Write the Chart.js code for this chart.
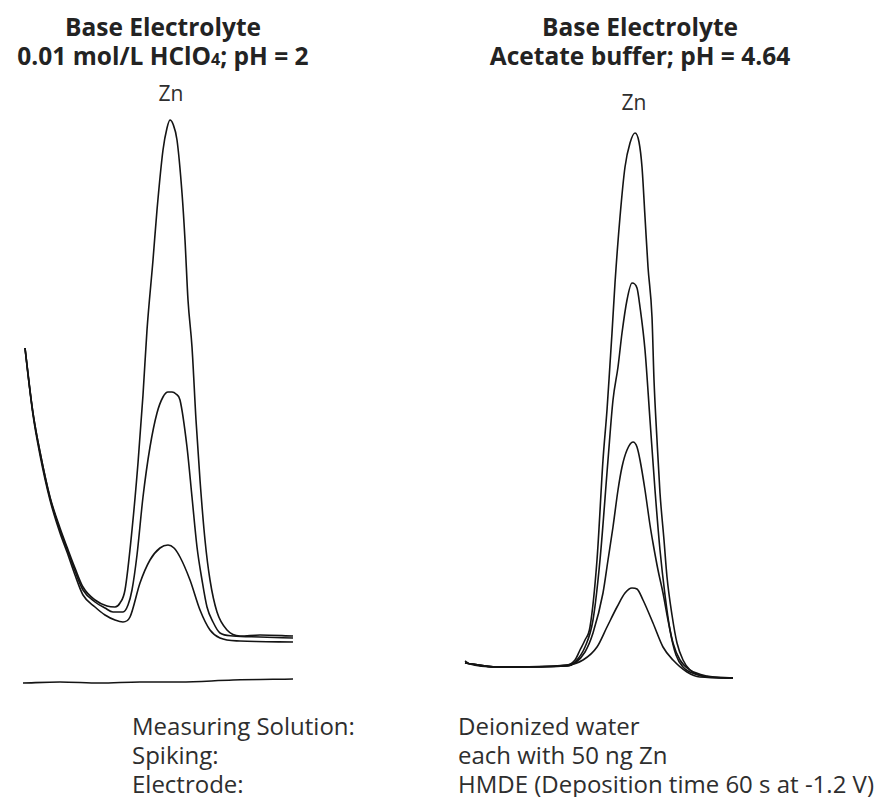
<!DOCTYPE html>
<html>
<head>
<meta charset="utf-8">
<script src="https://cdn.jsdelivr.net/npm/chart.js@4.4.1/dist/chart.umd.min.js"></script>
<style>
    body { margin: 0; background: #fff; font-family: "Open Sans", "Noto Sans", sans-serif; color: #2a2a2a; }
    #page { position: relative; width: 886px; height: 797px; overflow: hidden; }
    .title { position: absolute; top: 12px; width: 400px; text-align: center; font-weight: 700; font-size: 24.5px; line-height: 29px; color: #232323; }
    .title sub { font-size: 16px; vertical-align: 0; }
    .peak { position: absolute; width: 80px; text-align: center; font-size: 21px; line-height: 21px; color: #2e2e2e; }
    .panel { position: absolute; top: 100px; width: 310px; height: 600px; }
    .info { position: absolute; top: 711px; font-size: 24px; line-height: 29px; color: #2e2e2e; white-space: nowrap; }
</style>
</head>
<body>
<div id="page">
    <div class="title" style="left: -37px;">Base Electrolyte<br>0.01 mol/L HClO<sub>4</sub>; pH = 2</div>
    <div class="title" style="left: 440px;">Base Electrolyte<br>Acetate buffer; pH = 4.64</div>
    <div class="peak" style="left: 131px; top: 83px;">Zn</div>
    <div class="peak" style="left: 594px; top: 92px;">Zn</div>
    <div class="panel" style="left: 0;"><canvas id="leftChart"></canvas></div>
    <div class="panel" style="left: 450px;"><canvas id="rightChart"></canvas></div>
    <div class="info" style="left: 132px;">Measuring Solution:<br>Spiking:<br>Electrode:</div>
    <div class="info" style="left: 458px;">Deionized water<br>each with 50 ng Zn<br>HMDE (Deposition time 60 s at -1.2 V)</div>
</div>
<script>
// [potential (arb.), current (arb.)]

// HClO4, pH 2
const hclo4Blank = [[23, 17], [60, 18], [100, 17], [140, 18], [180, 18], [233, 20], [293, 21]];
const hclo4Spike1 = [[25, 352], [33, 285], [40, 245], [50, 200], [60, 167], [67, 148], [75, 125], [83, 105], [95, 93],
    [105, 85], [115, 80], [123, 78], [130, 83], [140, 117], [150, 140], [160, 152], [168, 155], [174, 152], [180, 143],
    [190, 120], [200, 90], [210, 70], [220, 62], [240, 59], [293, 58]];
const hclo4Spike2 = [[25, 352], [33, 287], [40, 248], [50, 202], [60, 170], [67, 151], [75, 129], [83, 110], [95, 98],
    [105, 92], [113, 88], [123, 88], [128, 95], [132, 110], [137, 145], [143, 203], [150, 253], [157, 287], [163, 303],
    [168, 308], [172, 308], [176, 306], [180, 300], [187, 253], [192, 203], [197, 153], [202, 120], [207, 93], [213, 78],
    [220, 67], [233, 64], [260, 63], [293, 62]];
const hclo4Spike3 = [[25, 352], [28, 325], [33, 287], [40, 248], [50, 203], [60, 172], [67, 153], [75, 132], [83, 113],
    [95, 100], [107, 94], [115, 93], [120, 97], [125, 110], [132, 170], [138, 237], [143, 305], [147, 370], [153, 440],
    [157, 490], [163, 550], [167, 572], [170, 580], [173, 576], [177, 560], [182, 507], [185, 460], [188, 400], [192, 353],
    [196, 280], [200, 220], [205, 160], [210, 120], [217, 88], [227, 70], [240, 64], [260, 65], [293, 64]];

// acetate buffer, pH 4.64
const acetateSpike1 = [[15, 37], [47, 33], [117, 35], [133, 40], [147, 53], [157, 73], [167, 93], [175, 107], [182, 112],
    [187, 111], [193, 100], [203, 77], [213, 53], [223, 40], [237, 28], [250, 23], [283, 22]];
const acetateSpike2 = [[15, 37], [47, 33], [117, 34], [125, 37], [135, 48], [143, 67], [153, 107], [158, 140], [163, 173],
    [168, 210], [172, 233], [177, 250], [183, 258], [187, 253], [190, 240], [195, 210], [200, 175], [203, 157], [208, 130],
    [213, 107], [218, 80], [223, 57], [230, 40], [240, 30], [257, 24], [283, 22]];
const acetateSpike3 = [[15, 37], [47, 33], [117, 34], [125, 38], [135, 53], [143, 80], [150, 140], [158, 240], [163, 300],
    [168, 333], [172, 367], [177, 400], [182, 417], [187, 412], [190, 393], [195, 350], [200, 280], [205, 210], [210, 150],
    [215, 105], [220, 70], [226, 45], [233, 33], [245, 26], [260, 23], [283, 22]];
const acetateSpike4 = [[15, 39], [20, 36], [47, 33], [80, 33], [117, 35], [125, 40], [130, 50], [135, 60], [140, 73],
    [147, 140], [153, 240], [157, 290], [160, 336], [162, 367], [165, 417], [170, 483], [175, 533], [180, 557], [185, 567],
    [189, 558], [192, 533], [195, 483], [198, 433], [202, 383], [204, 320], [207, 260], [210, 207], [214, 160], [217, 123],
    [222, 85], [227, 57], [233, 40], [240, 30], [257, 23], [283, 22]];

const toPoints = function (pairs) {
    return pairs.map(function (p) {
        return {x: p[0], y: p[1]};
    });
}

const makeChart = function (id, curves) {
    const ctx = document.getElementById(id).getContext('2d');
    const datasets = curves.map(function (c) {
        return {
            data: toPoints(c),
            borderColor: '#141414',
            borderWidth: 1.6,
            pointRadius: 0,
            fill: false,
            cubicInterpolationMode: 'monotone',
            clip: false,
        };
    });
    return new Chart(ctx, {
        type: 'line',
        data: {datasets: datasets},
        options: {
            responsive: true,
            maintainAspectRatio: false,
            animation: false,
            layout: {padding: 0},
            plugins: {
                legend: {display: false},
                tooltip: {enabled: false},
            },
            scales: {
                x: {type: 'linear', min: 0, max: 310, display: false},
                y: {type: 'linear', min: 0, max: 600, display: false},
            },
        }
    });
}

makeChart('leftChart', [hclo4Blank, hclo4Spike1, hclo4Spike2, hclo4Spike3]);
makeChart('rightChart', [acetateSpike1, acetateSpike2, acetateSpike3, acetateSpike4]);
</script>
</body>
</html>
